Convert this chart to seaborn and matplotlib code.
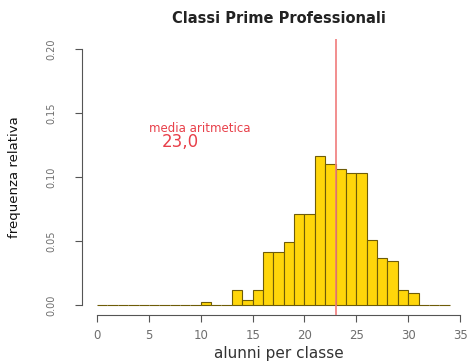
import pandas as pd
import seaborn as sns
from matplotlib import pyplot as plt

# relative frequency per class size (bins of width 1, left edge)
class_size = list(range(0, 34))
rel_freq = [0, 0, 0, 0, 0, 0, 0, 0, 0, 0,
            0.002, 0, 0, 0.012, 0.004, 0.012, 0.041, 0.041, 0.049, 0.071,
            0.071, 0.116, 0.110, 0.106, 0.103, 0.103, 0.051, 0.037, 0.034, 0.012,
            0.009, 0, 0, 0]
mean_value = 23.0
x_ticks = [0, 5, 10, 15, 20, 25, 30, 35]
y_ticks = [0.00, 0.05, 0.10, 0.15, 0.20]

data = pd.DataFrame({"size": class_size, "freq": rel_freq})

sns.set_style("white")
plt.rcParams["font.family"] = ["DejaVu Sans"]

fig = plt.figure(figsize=(4.73, 3.61), dpi=100)
ax = fig.add_axes([0.1744, 0.127, 0.829, 0.7656])

sns.histplot(
    data=data,
    x="size",
    weights="freq",
    binwidth=1,
    binrange=(0, 34),
    color="#FFD60A",
    edgecolor="#6E5C08",
    linewidth=0.8,
    alpha=1,
    ax=ax,
)
ax.axvline(mean_value, color="#F07C7C", linewidth=1.2, zorder=5)

ax.set_xlim(-1.4, 36.4)
ax.set_ylim(-0.008, 0.208)
ax.set_xticks(x_ticks)
ax.set_yticks(y_ticks)
ax.set_xticklabels([str(t) for t in x_ticks])
ax.set_yticklabels([f"{t:.2f}" for t in y_ticks], rotation=90, va="center")

for side in ["top", "right"]:
    ax.spines[side].set_visible(False)
ax.spines["left"].set_bounds(0, 0.2)
ax.spines["bottom"].set_bounds(0, 35)
for side in ["left", "bottom"]:
    ax.spines[side].set_color("#555555")
    ax.spines[side].set_linewidth(0.8)
ax.tick_params(axis="both", bottom=True, left=True, length=5, width=0.8,
               color="#555555", labelcolor="#6E6E6E", direction="out")
ax.tick_params(axis="y", labelsize=7, pad=14)
ax.tick_params(axis="x", labelsize=8.5, pad=5)

ax.set_xlabel("alunni per classe", fontsize=11, color="#333333", labelpad=3)
ax.set_ylabel("frequenza relativa", fontsize=9.5, color="#111111", labelpad=18)
ax.set_title("Classi Prime Professionali", fontsize=10.5, fontweight="bold",
             color="#222222", pad=11)

ax.text(5, 0.1355, "media aritmetica", color="#E8404A", fontsize=8.5)
ax.text(6.2, 0.1235, "23,0", color="#E8404A", fontsize=12)

plt.savefig("out.png", dpi=100)
